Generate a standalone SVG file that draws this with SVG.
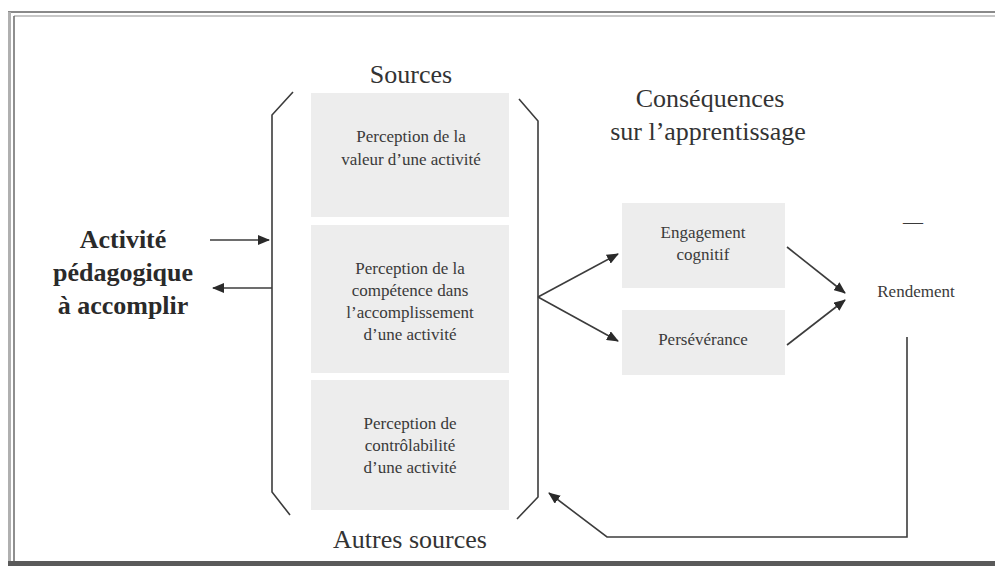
<svg xmlns="http://www.w3.org/2000/svg" width="995" height="566" viewBox="0 0 995 566">
<defs>
<style>
.title{font-family:"Liberation Serif","Times New Roman",serif;font-size:26px;fill:#333;text-anchor:middle}
.big{font-family:"Liberation Serif","Times New Roman",serif;font-size:26px;font-weight:bold;fill:#2a2a2a;text-anchor:middle}
.small{font-family:"Liberation Serif","Times New Roman",serif;font-size:17px;fill:#3a3a3a;text-anchor:middle}
.box{fill:#ededed;stroke:none}
.line{fill:none;stroke:#3c3c3c;stroke-width:1.6}
.arrow{fill:none;stroke:#3c3c3c;stroke-width:1.6;marker-end:url(#ah)}
</style>
<marker id="ah" viewBox="0 0 12 10" refX="11" refY="5" markerWidth="12" markerHeight="10" markerUnits="userSpaceOnUse" orient="auto">
<path d="M0,0 L12,5 L0,10 z" fill="#2a2a2a"/>
</marker>
</defs>
<rect x="0" y="0" width="995" height="566" fill="#ffffff"/>
<g id="frame">
<line x1="8" y1="12" x2="995" y2="12" stroke="#8a8a8a" stroke-width="2"/>
<line x1="14" y1="16" x2="995" y2="16" stroke="#b5b5b5" stroke-width="1.5"/>
<line x1="9.5" y1="12" x2="9.5" y2="566" stroke="#b0b0b0" stroke-width="3"/>
<line x1="14" y1="16" x2="14" y2="562" stroke="#6a6a6a" stroke-width="1.5"/>
<rect x="8" y="561" width="987" height="5" fill="#5a5a5a"/>
</g>
<g id="brackets">
<path class="line" d="M293,92 L272,115 L272,492 L290,515"/>
<path class="line" d="M519,99 L538,121 L538,497 L517,519"/>
</g>
<g id="activite">
<text class="big" x="123" y="248">Activité</text>
<text class="big" x="123" y="281">pédagogique</text>
<text class="big" x="123" y="314">à accomplir</text>
</g>
<g id="sources-title">
<text class="title" x="411" y="83">Sources</text>
</g>
<g id="valeur">
<rect class="box" x="311" y="93" width="198" height="124"/>
<text class="small" x="411" y="142">Perception de la</text>
<text class="small" x="411" y="165">valeur d’une activité</text>
</g>
<g id="competence">
<rect class="box" x="311" y="225" width="198" height="148"/>
<text class="small" x="410" y="274">Perception de la</text>
<text class="small" x="410" y="296">compétence dans</text>
<text class="small" x="410" y="318">l’accomplissement</text>
<text class="small" x="410" y="340">d’une activité</text>
</g>
<g id="controlabilite">
<rect class="box" x="311" y="380" width="198" height="130"/>
<text class="small" x="410" y="429">Perception de</text>
<text class="small" x="410" y="451">contrôlabilité</text>
<text class="small" x="410" y="473">d’une activité</text>
</g>
<g id="autres-sources">
<text class="title" x="410" y="548">Autres sources</text>
</g>
<g id="consequences-title">
<text class="title" x="710" y="107">Conséquences</text>
<text class="title" x="708" y="140">sur l’apprentissage</text>
</g>
<g id="engagement">
<rect class="box" x="622" y="203" width="163" height="85"/>
<text class="small" x="703" y="238">Engagement</text>
<text class="small" x="703" y="260">cognitif</text>
</g>
<g id="perseverance">
<rect class="box" x="622" y="310" width="163" height="65"/>
<text class="small" x="703" y="345">Persévérance</text>
</g>
<g id="rendement">
<text class="small" x="913" y="229" style="font-size:20px">—</text>
<text class="small" x="916" y="297">Rendement</text>
</g>
<g id="connectors">
<line class="arrow" x1="210" y1="240" x2="269" y2="240"/>
<line class="arrow" x1="272" y1="288" x2="213" y2="288"/>
<line class="arrow" x1="538" y1="297" x2="618" y2="254"/>
<line class="arrow" x1="538" y1="297" x2="618" y2="341"/>
<line class="arrow" x1="787" y1="247" x2="845" y2="293"/>
<line class="arrow" x1="787" y1="345" x2="845" y2="300"/>
<polyline class="arrow" points="907,337 907,537 607,537 549,493"/>
</g>
</svg>
